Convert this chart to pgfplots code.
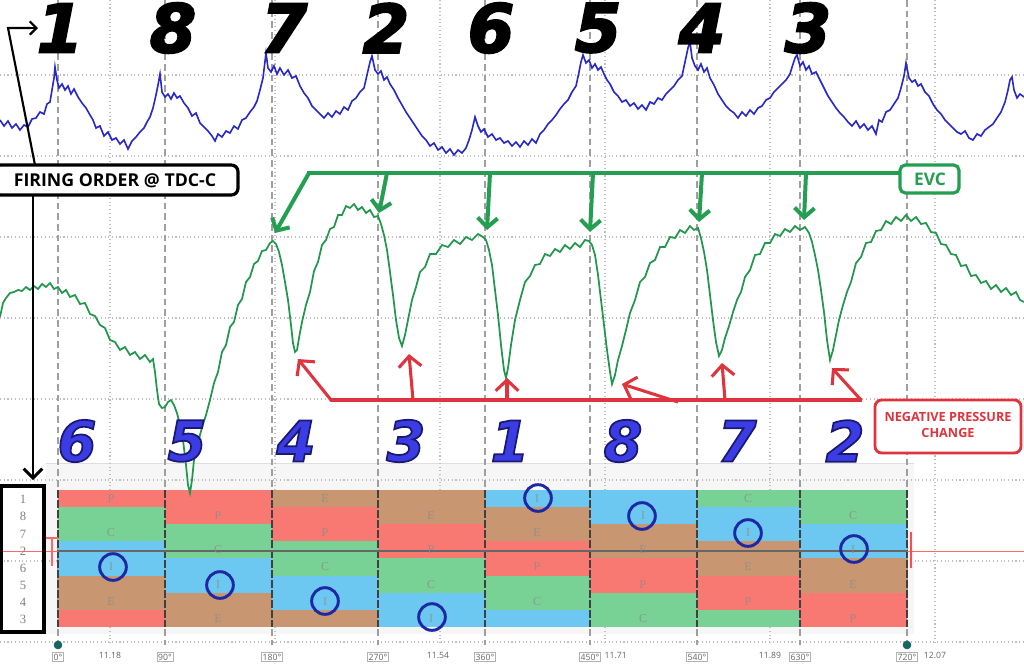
\documentclass[border=0pt]{standalone}
\usepackage{fontspec}
\setmainfont{Open Sans}
\newfontfamily\numfont{DejaVu Sans}
\newfontfamily\grayserif{Liberation Serif}
\usepackage{pgfplots}
\pgfplotsset{compat=1.18}
\usetikzlibrary{arrows.meta}
\definecolor{trblue}{RGB}{40,40,200}
\definecolor{trgreen}{RGB}{34,150,76}
\definecolor{evcgreen}{RGB}{36,158,80}
\definecolor{negred}{RGB}{222,52,62}
\definecolor{bandP}{RGB}{248,120,114}
\definecolor{bandC}{RGB}{120,210,150}
\definecolor{bandI}{RGB}{108,200,240}
\definecolor{bandE}{RGB}{200,150,112}
\definecolor{circblue}{RGB}{30,40,165}
\definecolor{numblue}{RGB}{60,60,228}
\definecolor{dotteal}{RGB}{25,100,100}
\newcommand{\strk}[3]{\special{pdf:literal direct #1 w #2 RG 2 Tr}#3\special{pdf:literal direct 0 Tr}}
\newcommand{\band}[5]{\addplot[fill=#5,draw=none] coordinates {(#1,#3)(#2,#3)(#2,#4)(#1,#4)} -- cycle;}
\newcommand{\deglab}[2]{\node[draw=gray!60, line width=0.4pt, inner sep=1pt, fill=white, font=\fontsize{6.5}{6.5}\selectfont, text=black!60] at (axis cs:#1,657) {#2°};}
\newcommand{\bigfo}[2]{\node[font=\numfont\bfseries\itshape\fontsize{50}{50}\selectfont, text=black, inner sep=0pt] at (axis cs:#1,28) {\strk{1.6}{0 0 0}{#2}};}
\newcommand{\bluenum}[2]{\node[font=\numfont\bfseries\itshape\fontsize{42}{42}\selectfont, text=numblue, inner sep=0pt] at (axis cs:#1,441) {\strk{1.3}{0.1 0.1 0.45}{#2}};}
\begin{document}
\begin{tikzpicture}
\begin{axis}[scale only axis, width=768pt, height=498pt,
  xmin=0, xmax=1024, ymin=0, ymax=664, y dir=reverse,
  hide axis, clip=false]
\fill[white] (axis cs:0,0) rectangle (axis cs:1024,664);
\coordinate (BL) at (axis cs:0,664);
\coordinate (TR) at (axis cs:1024,0);
% panel behind the bars
\fill[gray!7] (axis cs:46,463) rectangle (axis cs:914,634);
\draw[gray!25, line width=0.6pt] (axis cs:46,463) -- (axis cs:914,463);
% minor dotted grid
\pgfplotsinvokeforeach{75,156,237,318,399,480,561,642}{
  \draw[gray!50, dotted, line width=0.8pt] (axis cs:0,#1) -- (axis cs:1024,#1);}
\pgfplotsinvokeforeach{110,275,440,605,770,935}{
  \draw[gray!50, dotted, line width=0.8pt] (axis cs:#1,0) -- (axis cs:#1,645);}
% major dashed grid (every 90 deg)
\pgfplotsinvokeforeach{58,165,272,378,485,590,697,800,907}{
  \draw[gray!75, dash pattern=on 5pt off 3pt, line width=0.9pt] (axis cs:#1,0) -- (axis cs:#1,645);}
% stroke bands
\band{58}{165}{490}{507}{bandP}\band{58}{165}{507}{541}{bandC}\band{58}{165}{541}{576}{bandI}\band{58}{165}{576}{610}{bandE}\band{58}{165}{610}{627}{bandP}
\band{165}{272}{490}{524}{bandP}\band{165}{272}{524}{558}{bandC}\band{165}{272}{558}{593}{bandI}\band{165}{272}{593}{627}{bandE}
\band{272}{378}{490}{507}{bandE}\band{272}{378}{507}{541}{bandP}\band{272}{378}{541}{576}{bandC}\band{272}{378}{576}{610}{bandI}\band{272}{378}{610}{627}{bandE}
\band{378}{485}{490}{524}{bandE}\band{378}{485}{524}{558}{bandP}\band{378}{485}{558}{593}{bandC}\band{378}{485}{593}{627}{bandI}
\band{485}{590}{490}{507}{bandI}\band{485}{590}{507}{541}{bandE}\band{485}{590}{541}{576}{bandP}\band{485}{590}{576}{610}{bandC}\band{485}{590}{610}{627}{bandI}
\band{590}{697}{490}{524}{bandI}\band{590}{697}{524}{558}{bandE}\band{590}{697}{558}{593}{bandP}\band{590}{697}{593}{627}{bandC}
\band{697}{800}{490}{507}{bandC}\band{697}{800}{507}{541}{bandI}\band{697}{800}{541}{576}{bandE}\band{697}{800}{576}{610}{bandP}\band{697}{800}{610}{627}{bandC}
\band{800}{907}{490}{524}{bandC}\band{800}{907}{524}{558}{bandI}\band{800}{907}{558}{593}{bandE}\band{800}{907}{593}{627}{bandP}
% column separators over bars
\pgfplotsinvokeforeach{58,165,272,378,485,590,697,800,907}{
  \draw[black!75, dash pattern=on 6pt off 1.5pt, line width=1.3pt] (axis cs:#1,490) -- (axis cs:#1,627);}
% letters in bands
\addplot[only marks, mark=none, point meta=explicit symbolic,
  nodes near coords={\pgfplotspointmeta},
  every node near coord/.append style={anchor=center, font=\grayserif\fontsize{9}{9}\selectfont, text=black!45, opacity=0.8}]
  table[meta=l]{
x y l
111 498.5 P
111 532.5 C
111 567 I
111 601.5 E
218 515.5 P
218 549.5 C
218 584.5 I
218 618.5 E
325 498.5 E
325 532.5 P
325 567 C
325 601.5 I
431 515.5 E
431 549.5 P
431 584.5 C
431 618.5 I
537 498.5 I
537 532.5 E
537 567 P
537 601.5 C
643 515.5 I
643 549.5 E
643 584.5 P
643 618.5 C
748 498.5 C
748 532.5 I
748 567 E
748 601.5 P
853 515.5 C
853 549.5 I
853 584.5 E
853 618.5 P
};
% circles around intake
\addplot[only marks, mark=o, mark size=10pt, line width=2.2pt, color=circblue]
  coordinates {(113,567)(220,585)(325,601)(432,617)(538,498)(642,516)(748,533)(854,549)};
% red reference line
\draw[red!60, line width=0.6pt] (axis cs:0,551) -- (axis cs:1024,551);
\draw[black!60, line width=0.8pt] (axis cs:58,551) -- (axis cs:907,551);
\draw[red!60, line width=1pt] (axis cs:52,538) -- (axis cs:52,566);
\draw[red!60, line width=1pt] (axis cs:46,538) -- (axis cs:58,538);
\draw[red!70, line width=1.6pt] (axis cs:911,532) -- (axis cs:911,568);
% bottom scale
\addplot[only marks, mark=*, mark size=3pt, color=dotteal] coordinates {(58,645)(907,645)};
\deglab{58}{0}\deglab{165}{90}\deglab{272}{180}\deglab{378}{270}\deglab{485}{360}\deglab{590}{450}\deglab{697}{540}\deglab{800}{630}\deglab{907}{720}
\node[font=\fontsize{6.5}{6.5}\selectfont, text=black!60] at (axis cs:110,655) {11.18};
\node[font=\fontsize{6.5}{6.5}\selectfont, text=black!60] at (axis cs:438,655) {11.54};
\node[font=\fontsize{6.5}{6.5}\selectfont, text=black!60, anchor=west] at (axis cs:600,655) {11.71};
\node[font=\fontsize{6.5}{6.5}\selectfont, text=black!60] at (axis cs:770,655) {11.89};
\node[font=\fontsize{6.5}{6.5}\selectfont, text=black!60] at (axis cs:935,655) {12.07};
% blue trace
\addplot[trblue, line width=1.2pt] coordinates {
(0,120)(4,126)(8,121)(12,128)(16,124)(20,130)(24,125)(28,127)(32,119)(36,118)(40,112)(44,114)(47,104)(50,102)(52,90)(54,78)(55,67)(57,80)(59,88)(62,84)(65,90)(68,86)(71,94)(74,89)(78,97)(82,103)(86,108)(90,115)(93,120)(96,128)(100,126)(104,136)(108,132)(112,140)(116,138)(120,144)(124,140)(128,149)(132,141)(136,137)(140,132)(144,128)(147,122)(150,117)(153,108)(156,95)(158,85)(160,74)(162,92)(165,97)(168,94)(171,99)(174,93)(177,98)(180,96)(184,103)(188,108)(192,116)(196,113)(200,123)(204,127)(208,131)(212,136)(215,141)(218,134)(222,137)(226,131)(230,133)(234,126)(238,129)(242,120)(246,118)(250,112)(254,107)(257,101)(260,90)(263,78)(266,53)(268,68)(271,72)(274,66)(277,74)(280,68)(284,75)(288,70)(292,78)(296,76)(300,86)(304,93)(308,98)(312,106)(316,110)(320,114)(324,118)(328,113)(332,117)(336,111)(340,114)(344,107)(348,110)(352,101)(356,98)(360,92)(364,88)(367,75)(370,62)(372,56)(375,70)(378,74)(381,71)(384,80)(387,77)(390,84)(394,90)(398,98)(402,105)(406,112)(410,118)(414,124)(418,130)(422,136)(426,140)(430,146)(434,143)(438,150)(442,147)(446,153)(450,149)(454,155)(458,150)(462,153)(466,148)(469,140)(472,130)(475,117)(478,126)(481,132)(484,129)(488,137)(492,134)(496,140)(500,138)(504,143)(508,141)(512,146)(516,142)(520,147)(524,141)(528,145)(532,139)(536,143)(540,134)(544,130)(548,124)(552,120)(556,115)(560,109)(564,104)(568,100)(572,92)(576,86)(579,72)(581,62)(583,55)(586,63)(589,60)(592,68)(595,64)(598,70)(601,67)(604,74)(607,80)(610,84)(614,92)(618,96)(622,102)(626,100)(630,106)(634,103)(638,109)(642,105)(646,110)(650,102)(654,104)(658,98)(662,100)(666,94)(670,90)(674,86)(678,80)(682,76)(685,62)(688,48)(690,42)(692,58)(695,66)(698,70)(701,64)(704,72)(707,68)(710,78)(714,85)(718,94)(722,100)(726,106)(730,110)(734,113)(738,118)(742,112)(746,116)(750,110)(754,114)(758,108)(762,106)(766,100)(770,98)(774,92)(778,88)(782,84)(786,80)(790,74)(793,64)(795,58)(797,55)(800,66)(803,62)(806,70)(809,66)(812,74)(816,72)(820,80)(824,88)(828,96)(832,102)(836,108)(840,113)(844,117)(848,122)(852,126)(856,121)(860,128)(864,124)(868,130)(872,126)(876,134)(879,120)(882,122)(886,112)(890,110)(894,104)(898,98)(901,88)(904,76)(906,63)(909,78)(912,82)(915,80)(918,86)(921,84)(925,92)(929,96)(933,104)(937,110)(941,114)(945,120)(949,124)(953,128)(957,132)(961,134)(965,131)(969,138)(973,140)(977,134)(981,136)(985,130)(989,127)(993,124)(997,118)(1001,112)(1005,102)(1008,90)(1010,80)(1012,77)(1014,90)(1017,98)(1020,94)(1024,97)};
% green trace
\addplot[trgreen, line width=1.3pt] coordinates {
(0,317)(3,303)(6,298)(10,293)(14,292)(18,290)(22,291)(26,287)(30,290)(34,286)(38,289)(42,284)(46,287)(50,283)(54,289)(58,287)(62,293)(66,290)(70,297)(75,295)(80,304)(85,303)(90,314)(95,316)(100,325)(105,328)(110,340)(115,342)(120,350)(125,347)(130,355)(135,352)(140,359)(145,355)(150,362)(153,359)(155,372)(157,390)(159,404)(162,408)(165,407)(168,402)(171,400)(174,405)(177,413)(180,425)(183,440)(186,465)(188,485)(190,493)(192,480)(194,460)(197,448)(200,435)(203,424)(206,415)(210,400)(214,383)(218,372)(222,352)(226,345)(230,327)(234,322)(238,305)(242,299)(246,282)(250,277)(254,264)(258,261)(262,251)(266,250)(270,243)(273,241)(276,244)(279,252)(282,265)(285,282)(288,300)(291,325)(293,343)(295,352)(297,350)(299,338)(302,322)(306,305)(310,292)(314,271)(318,262)(322,245)(326,240)(330,229)(334,227)(338,215)(342,215)(346,206)(350,208)(354,204)(358,210)(362,207)(366,213)(370,210)(374,217)(378,216)(381,224)(384,235)(387,250)(390,272)(393,295)(396,320)(399,338)(402,346)(405,335)(408,320)(412,300)(416,287)(420,272)(425,267)(430,254)(436,254)(442,245)(448,247)(454,240)(460,244)(466,237)(472,240)(478,234)(483,237)(486,240)(489,250)(492,265)(495,290)(498,315)(501,345)(504,370)(506,378)(508,368)(511,345)(515,320)(520,300)(525,282)(530,276)(535,265)(540,264)(545,254)(550,256)(555,249)(560,252)(565,245)(570,249)(575,243)(580,247)(585,240)(589,241)(592,245)(595,255)(598,275)(601,300)(604,325)(607,350)(610,372)(612,384)(615,375)(618,360)(622,346)(626,330)(630,313)(635,300)(640,282)(645,277)(650,263)(655,260)(660,247)(665,247)(670,237)(675,238)(680,230)(685,233)(690,226)(694,230)(698,228)(701,238)(704,252)(707,270)(710,295)(713,320)(716,342)(719,356)(722,350)(725,338)(729,326)(733,312)(737,300)(741,292)(745,277)(750,270)(755,255)(760,254)(765,243)(770,243)(775,234)(780,236)(785,229)(790,232)(795,226)(800,230)(805,227)(809,233)(812,242)(815,255)(818,270)(821,290)(824,312)(827,340)(830,360)(833,350)(836,335)(839,320)(843,305)(847,292)(851,282)(856,263)(861,257)(866,243)(871,242)(876,231)(881,230)(886,221)(891,224)(896,217)(901,221)(906,215)(911,221)(916,217)(921,224)(926,223)(931,232)(936,233)(941,244)(946,245)(951,254)(956,255)(961,266)(966,265)(971,276)(976,275)(981,283)(986,281)(991,289)(996,285)(1001,292)(1006,288)(1011,295)(1016,292)(1020,300)(1024,302)};
% big black firing-order numerals
\bigfo{60}{1}\bigfo{173}{8}\bigfo{284}{7}\bigfo{386}{2}\bigfo{491}{6}\bigfo{598}{5}\bigfo{702}{4}\bigfo{808}{3}
% blue numerals
\bluenum{77}{6}\bluenum{187}{5}\bluenum{296}{4}\bluenum{406}{3}\bluenum{510}{1}\bluenum{623}{8}\bluenum{737}{7}\bluenum{845}{2}
% firing order box and connectors
\draw[black, line width=1.6pt] (axis cs:35,165) -- (axis cs:8,28) -- (axis cs:30,28);
\draw[black, line width=1.6pt, -{Straight Barb[length=5pt,width=10pt]}] (axis cs:8,28) -- (axis cs:38,28);
\draw[black, line width=2.2pt, -{Straight Barb[length=7pt,width=14pt]}] (axis cs:33,195) -- (axis cs:33,480);
\draw[black, line width=2.4pt, fill=white, rounded corners=5pt] (axis cs:-6,165) rectangle (axis cs:238,195);
\node[font=\bfseries\fontsize{13.3}{13.3}\selectfont, text=black] at (axis cs:115,180.5) {FIRING ORDER @ TDC-C};
% row label box
\draw[black, line width=2.4pt] (axis cs:1,486) rectangle (axis cs:44,632);
\addplot[only marks, mark=none, point meta=explicit symbolic,
  nodes near coords={\pgfplotspointmeta},
  every node near coord/.append style={anchor=center, font=\grayserif\fontsize{9.5}{9.5}\selectfont, text=black!50}]
  table[meta=l]{
x y l
23 499 1
23 516 8
23 534 7
23 551 2
23 568 6
23 585 5
23 602 4
23 619 3
};
% EVC annotation
\draw[evcgreen, line width=3pt] (axis cs:307,173) -- (axis cs:900,173);
\draw[evcgreen, line width=3pt, -{Straight Barb[length=7pt,width=15pt]}] (axis cs:309,173) -- (axis cs:275,233);
\draw[evcgreen, line width=3pt, -{Straight Barb[length=7pt,width=15pt]}] (axis cs:387,173) -- (axis cs:379,213);
\draw[evcgreen, line width=3pt, -{Straight Barb[length=7pt,width=15pt]}] (axis cs:490,173) -- (axis cs:487,230);
\draw[evcgreen, line width=3pt, -{Straight Barb[length=7pt,width=15pt]}] (axis cs:593,173) -- (axis cs:590,232);
\draw[evcgreen, line width=3pt, -{Straight Barb[length=7pt,width=15pt]}] (axis cs:702,173) -- (axis cs:699,222);
\draw[evcgreen, line width=3pt, -{Straight Barb[length=7pt,width=15pt]}] (axis cs:806,173) -- (axis cs:804,220);
\draw[evcgreen, line width=2.4pt, fill=white, rounded corners=4pt] (axis cs:900,165) rectangle (axis cs:959,193);
\node[font=\bfseries\fontsize{13}{13}\selectfont, text=evcgreen] at (axis cs:930,179.5) {EVC};
% negative pressure annotation
\draw[negred, line width=2.3pt] (axis cs:330,400) -- (axis cs:862,400);
\draw[negred, line width=2.3pt, -{Straight Barb[length=8pt,width=17pt]}] (axis cs:331,400) -- (axis cs:298,359);
\draw[negred, line width=2.3pt, -{Straight Barb[length=8pt,width=17pt]}] (axis cs:413,400) -- (axis cs:409,354);
\draw[negred, line width=2.3pt, -{Straight Barb[length=8pt,width=17pt]}] (axis cs:507,400) -- (axis cs:507,378);
\draw[negred, line width=2.3pt, -{Straight Barb[length=8pt,width=17pt]}] (axis cs:678,402) -- (axis cs:622,384);
\draw[negred, line width=2.3pt, -{Straight Barb[length=8pt,width=17pt]}] (axis cs:725,400) -- (axis cs:722,363);
\draw[negred, line width=2.3pt, -{Straight Barb[length=8pt,width=17pt]}] (axis cs:861,400) -- (axis cs:832,368);
\draw[negred, line width=2.1pt, fill=white, rounded corners=5pt] (axis cs:875,400) rectangle (axis cs:1021,453);
\node[font=\bfseries\fontsize{9.5}{11.5}\selectfont, text=negred, align=center] at (axis cs:948,425) {NEGATIVE PRESSURE\\CHANGE};
\end{axis}
\pgfresetboundingbox
\path[use as bounding box] (BL) rectangle (TR);
\end{tikzpicture}
\end{document}
